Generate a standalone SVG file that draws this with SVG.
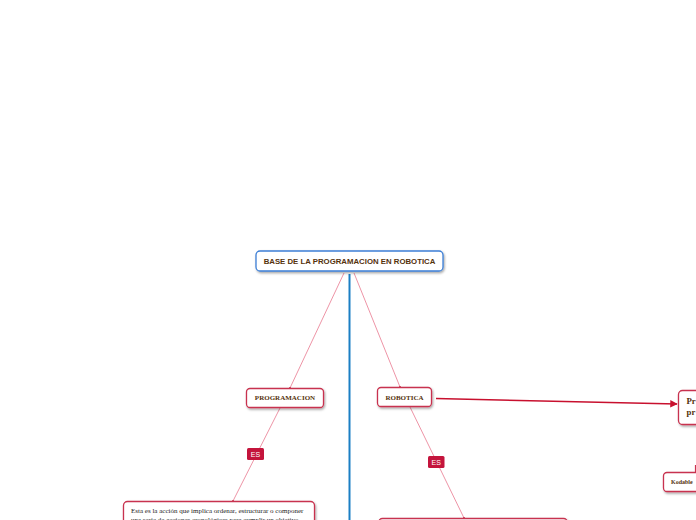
<svg xmlns="http://www.w3.org/2000/svg" width="696" height="520" viewBox="0 0 696 520">
<defs>
<filter id="sh" x="-10%" y="-20%" width="130%" height="160%">
<feDropShadow dx="1" dy="1.5" stdDeviation="0.8" flood-color="#000" flood-opacity="0.35"/>
</filter>
<marker id="ah" viewBox="0 0 10 10" refX="9" refY="5" markerWidth="5" markerHeight="5" orient="auto">
<path d="M0,0 L10,5 L0,10 z" fill="#c8102e"/>
</marker>
</defs>
<style>
.root{fill:#fff;stroke:#3d7fd6;stroke-width:1.3}
.node{fill:#fff;stroke:#c8334f;stroke-width:1.3}
.thin{stroke:#e8788f;stroke-width:0.8;fill:none}
.lbl{fill:#c4143c}
.lt{font-family:"Liberation Sans",Arial,sans-serif;font-size:7px;fill:#fff}
.st{font-family:"Liberation Sans",Arial,sans-serif;font-weight:bold;font-size:7.8px;fill:#55320c}
.sr{font-family:"Liberation Serif","Times New Roman",serif;font-weight:bold;fill:#55320c}
.body{font-family:"Liberation Serif","Times New Roman",serif;font-size:7px;fill:#222}
</style>
<rect width="696" height="520" fill="#fff"/>
<g id="connectors">
<line x1="349.5" y1="274" x2="349.5" y2="520" stroke="#1b7fc4" stroke-width="2"/>
<line class="thin" x1="344" y1="273" x2="290" y2="388"/>
<line class="thin" x1="354" y1="273" x2="400" y2="387"/>
<line class="thin" x1="280" y1="408" x2="233" y2="501"/>
<line class="thin" x1="410" y1="407" x2="464" y2="518"/>
<line x1="436" y1="398.5" x2="677" y2="404" stroke="#c8102e" stroke-width="1.5" marker-end="url(#ah)"/>
<line x1="695.5" y1="465" x2="695.5" y2="472" stroke="#c8334f" stroke-width="1.2"/>
<circle cx="290" cy="388" r="1" fill="#c8334f"/>
<circle cx="400" cy="387" r="1" fill="#c8334f"/>
<circle cx="233" cy="501" r="1" fill="#c8334f"/>
<circle cx="464" cy="518" r="1" fill="#c8334f"/>
<g id="label-es-1"><rect class="lbl" x="247" y="448" width="17" height="12" rx="1.5"/><text class="lt" x="255.5" y="456.7" text-anchor="middle">ES</text></g>
<g id="label-es-2"><rect class="lbl" x="428" y="456" width="16.5" height="12" rx="1.5"/><text class="lt" x="436.2" y="464.7" text-anchor="middle">ES</text></g>
</g>
<g id="node-root">
<rect class="root" x="256" y="251" width="187" height="20" rx="4" filter="url(#sh)"/>
<text class="st" x="349.5" y="263.8" text-anchor="middle">BASE DE LA PROGRAMACION EN ROBOTICA</text>
</g>
<g id="node-programacion">
<rect class="node" x="246.5" y="388.5" width="77" height="19" rx="3.5" filter="url(#sh)"/>
<text class="sr" x="285" y="400.3" font-size="7" text-anchor="middle">PROGRAMACION</text>
</g>
<g id="node-robotica">
<rect class="node" x="377.5" y="387.5" width="54" height="19" rx="3.5" filter="url(#sh)"/>
<text class="sr" x="404.5" y="399.6" font-size="7" text-anchor="middle">ROBOTICA</text>
</g>
<g id="node-programacion-def">
<rect class="node" x="123.5" y="501.5" width="191" height="40" rx="4" filter="url(#sh)"/>
<text class="body" x="131" y="513">Esta es la acción que implica ordenar, estructurar o componer</text>
<text class="body" x="131" y="521.5">una serie de acciones cronológicas para cumplir un objetivo.</text>
</g>
<g id="node-robotica-def">
<rect class="node" x="378.5" y="518.5" width="189" height="30" rx="4" filter="url(#sh)"/>
</g>
<g id="node-right">
<rect class="node" x="678.5" y="390.5" width="50" height="34" rx="4" filter="url(#sh)"/>
<text class="sr" x="686.5" y="404" font-size="8.8">Pr</text>
<text class="sr" x="686.5" y="415" font-size="8.8">pr</text>
</g>
<g id="node-kodable">
<rect class="node" x="663.5" y="472.5" width="50" height="19" rx="3.5" filter="url(#sh)"/>
<text class="sr" x="671" y="484.2" font-size="6">Kodable</text>
</g>
</svg>
